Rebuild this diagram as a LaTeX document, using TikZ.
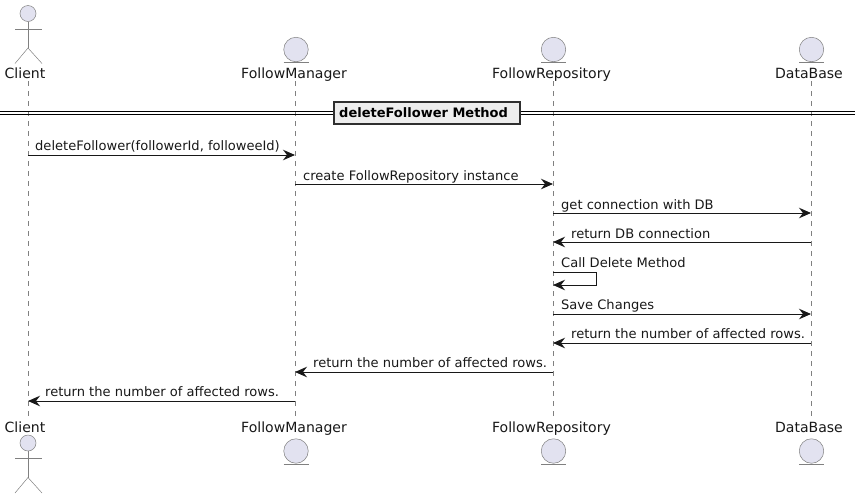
\documentclass[tikz,border=0pt]{standalone}
\usepackage{fontspec}
\setmainfont{DejaVu Sans}
\usepackage{tikz}
\usetikzlibrary{arrows.meta}
\definecolor{umlfill}{HTML}{E2E2F0}
\definecolor{umlline}{HTML}{181818}
\definecolor{umlthin}{HTML}{808080}
\tikzset{
  head_node/.style={circle,draw=umlthin,fill=umlfill,line width=0.5pt,inner sep=0pt,minimum size=#1},
  name_node/.style={anchor=base,inner sep=0pt,text=umlline,font=\fontsize{14.05}{16}\selectfont},
  msg_node/.style={anchor=base west,inner sep=0pt,text=umlline,font=\fontsize{13.05}{15}\selectfont},
  life_line/.style={draw=umlthin,line width=0.5pt,dash pattern=on 5pt off 5pt},
  shape_line/.style={draw=umlthin,line width=0.5pt},
  msg_line/.style={draw=umlline,line width=1pt,-{Stealth[length=12pt,width=10.5pt,inset=4pt]}},
}
\begin{document}
\begin{tikzpicture}[x=1pt,y=-1pt]
    \useasboundingbox (0,0) rectangle (860,499);

    % lifelines
    \coordinate (client_a) at (28,81);
    \coordinate (client_b) at (28,417);
    \coordinate (manager_a) at (295,81);
    \coordinate (manager_b) at (295,417);
    \coordinate (repo_a) at (553,81);
    \coordinate (repo_b) at (553,417);
    \coordinate (base_a) at (811,81);
    \coordinate (base_b) at (811,417);

    \draw[life_line] (client_a) -- (client_b);
    \draw[life_line] (manager_a) -- (manager_b);
    \draw[life_line] (repo_a) -- (repo_b);
    \draw[life_line] (base_a) -- (base_b);

    % names
    \node[name_node] (client_top) at (25,78) {Client};
    \node[name_node] (manager_top) at (294,78) {FollowManager};
    \node[name_node] (repo_top) at (551.5,78) {FollowRepository};
    \node[name_node] (base_top) at (809,78) {DataBase};

    \node[name_node] (client_bot) at (25,432) {Client};
    \node[name_node] (manager_bot) at (294,432) {FollowManager};
    \node[name_node] (repo_bot) at (551.5,432) {FollowRepository};
    \node[name_node] (base_bot) at (809,432) {DataBase};

    % actors
    \foreach \y/\n in {13.5/top, 443/bot}{
        \coordinate (neck_\n) at (28,\y+8);
        \coordinate (hip_\n) at (28,\y+34.5);
        \coordinate (arm_l_\n) at (15,\y+15.5);
        \coordinate (arm_r_\n) at (42,\y+15.5);
        \coordinate (leg_l_\n) at (15,\y+50);
        \coordinate (leg_r_\n) at (42,\y+50);
        \draw[shape_line] (neck_\n) -- (hip_\n);
        \draw[shape_line] (arm_l_\n) -- (arm_r_\n);
        \draw[shape_line] (leg_l_\n) -- (hip_\n) -- (leg_r_\n);
        \node[head_node=16pt] (actor_\n) at (28,\y) {};
    }

    % entities
    \foreach \x/\m in {296/manager, 553.5/repo, 811.5/base}{
        \foreach \y/\n in {49.5/top, 451/bot}{
            \node[head_node=24.5pt] (\m_\n_head) at (\x,\y) {};
            \coordinate (\m_\n_l) at (\x-12.5,\y+13);
            \coordinate (\m_\n_r) at (\x+12.5,\y+13);
            \draw[shape_line] (\m_\n_l) -- (\m_\n_r);
        }
    }

    % divider
    \coordinate (div_l1) at (0,111);
    \coordinate (div_r1) at (855,111);
    \coordinate (div_l2) at (0,114.5);
    \coordinate (div_r2) at (855,114.5);
    \draw[black,line width=1pt] (div_l1) -- (div_r1);
    \draw[black,line width=1pt] (div_l2) -- (div_r2);
    \node[draw=umlline!90,fill=black!7,line width=2pt,inner sep=0pt,minimum width=186.5pt,minimum height=22pt] (div) at (427,113) {};
    \node[msg_node,text=black,font=\fontsize{13}{15}\selectfont\bfseries] (div_text) at (339,117) {deleteFollower Method};

    % messages
    \coordinate (m1a) at (28,155);   \coordinate (m1b) at (295,155);
    \coordinate (m2a) at (295,184);  \coordinate (m2b) at (553,184);
    \coordinate (m3a) at (553,213);  \coordinate (m3b) at (811,213);
    \coordinate (m4a) at (811,242);  \coordinate (m4b) at (553,242);
    \coordinate (m5a) at (553,272);  \coordinate (m5b) at (553,285);
    \coordinate (m5c) at (596,272);  \coordinate (m5d) at (596,285);
    \coordinate (m6a) at (553,314);  \coordinate (m6b) at (811,314);
    \coordinate (m7a) at (811,343);  \coordinate (m7b) at (553,343);
    \coordinate (m8a) at (553,372);  \coordinate (m8b) at (295,372);
    \coordinate (m9a) at (295,401);  \coordinate (m9b) at (28,401);

    \draw[msg_line] (m1a) -- (m1b);
    \draw[msg_line] (m2a) -- (m2b);
    \draw[msg_line] (m3a) -- (m3b);
    \draw[msg_line] (m4a) -- (m4b);
    \draw[msg_line] (m5a) -- (m5c) -- (m5d) -- (m5b);
    \draw[msg_line] (m6a) -- (m6b);
    \draw[msg_line] (m7a) -- (m7b);
    \draw[msg_line] (m8a) -- (m8b);
    \draw[msg_line] (m9a) -- (m9b);

    \node[msg_node] (t1) at (35,150) {deleteFollower(followerId, followeeId)};
    \node[msg_node] (t2) at (303,180) {create FollowRepository instance};
    \node[msg_node] (t3) at (561,209) {get connection with DB};
    \node[msg_node] (t4) at (571,238) {return DB connection};
    \node[msg_node] (t5) at (561,267) {Call Delete Method};
    \node[msg_node] (t6) at (561,309) {Save Changes};
    \node[msg_node] (t7) at (571,338) {return the number of affected rows.};
    \node[msg_node] (t8) at (313,367) {return the number of affected rows.};
    \node[msg_node] (t9) at (45,396) {return the number of affected rows.};
\end{tikzpicture}
\end{document}
